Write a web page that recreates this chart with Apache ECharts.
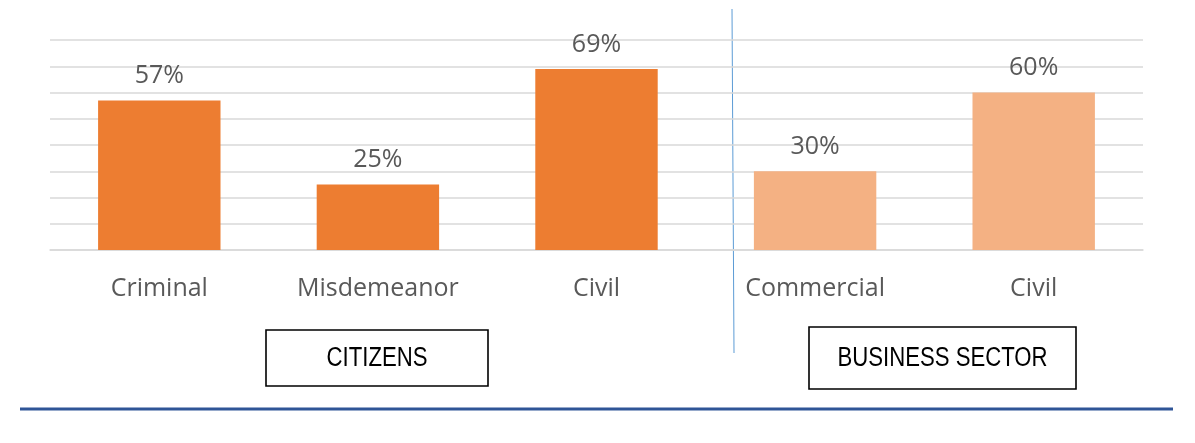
<!DOCTYPE html>
<html>
<head>
<meta charset="utf-8">
<script src="https://cdn.jsdelivr.net/npm/echarts@6/dist/echarts.min.js"></script>
<style>
  html, body { margin: 0; padding: 0; background: #fff; }
  #chart { width: 1195px; height: 443px; }
</style>
</head>
<body>
<div id="chart"></div>
<script>
// categories and values (percent)
var categories = ["Criminal", "Misdemeanor", "Civil", "Commercial", "Civil"];
var values = [57, 25, 69, 30, 60];
// which group each bar belongs to: 0 = citizens, 1 = business sector
var groups = [0, 0, 0, 1, 1];
var groupNames = ["CITIZENS", "BUSINESS SECTOR"];
var yTicks = { min: 0, max: 80, interval: 10 };

var barColors = ["#ED7D31", "#F4B183"];
var textGray = "#595959";

var chart = echarts.init(document.getElementById("chart"));

var barData = values.map(function (v, i) {
  return { value: v, itemStyle: { color: barColors[groups[i]] } };
});

// box label (group name) helper
function groupBox(name, x, y, w, h) {
  return {
    type: "group",
    children: [
      {
        type: "rect",
        shape: { x: x, y: y, width: w, height: h },
        style: { fill: "#fff", stroke: "#000", lineWidth: 1.6 }
      },
      {
        type: "text",
        x: x + w / 2,
        y: y + h / 2 + 1,
        scaleX: 0.82,
        style: {
          text: name,
          fill: "#000",
          font: "27px 'Liberation Sans', Arial, sans-serif",
          align: "center",
          verticalAlign: "middle"
        }
      }
    ]
  };
}

chart.setOption({
  animation: false,
  grid: { left: 50, right: 52, top: 40, bottom: 193 },
  xAxis: {
    type: "category",
    data: categories,
    axisLine: { lineStyle: { color: "#d9d9d9", width: 1.5 } },
    axisTick: { show: false },
    axisLabel: {
      color: textGray,
      fontFamily: "'Open Sans', sans-serif",
      fontSize: 25,
      margin: 26
    }
  },
  yAxis: {
    type: "value",
    min: yTicks.min,
    max: yTicks.max,
    interval: yTicks.interval,
    axisLabel: { show: false },
    axisLine: { show: false },
    axisTick: { show: false },
    splitLine: { lineStyle: { color: "#d9d9d9", width: 1.5 } }
  },
  series: [
    {
      type: "bar",
      data: barData,
      barWidth: "56%",
      label: {
        show: true,
        position: "top",
        distance: 12,
        formatter: "{c}%",
        color: textGray,
        fontFamily: "'Open Sans', sans-serif",
        fontSize: 25
      }
    }
  ],
  graphic: [
    {
      type: "line",
      shape: { x1: 732, y1: 9, x2: 734, y2: 353 },
      style: { stroke: "#5B9BD5", lineWidth: 1 }
    },
    groupBox(groupNames[0], 266, 330, 222, 56),
    groupBox(groupNames[1], 809, 327, 267, 62),
    {
      type: "line",
      shape: { x1: 20, y1: 409, x2: 1173, y2: 409 },
      style: { stroke: "#2F5597", lineWidth: 3 }
    }
  ]
});
</script>
</body>
</html>
